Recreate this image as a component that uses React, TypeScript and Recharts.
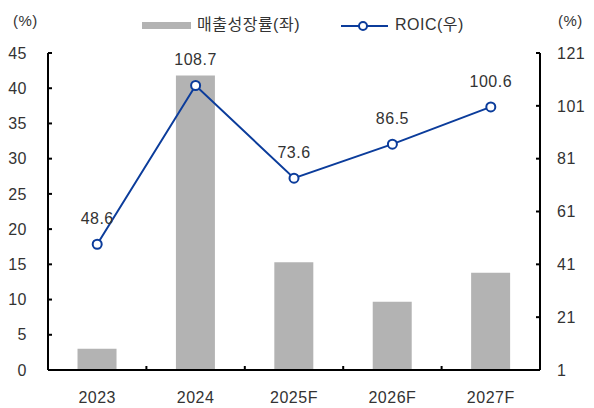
import React from 'react';
import { ComposedChart, Bar, Line, XAxis, YAxis, LabelList } from 'recharts';

const years = ['2023', '2024', '2025F', '2026F', '2027F'];
const growth = [3.0, 41.8, 15.3, 9.7, 13.8];
const roic = [48.6, 108.7, 73.6, 86.5, 100.6];
const leftTicks = [0, 5, 10, 15, 20, 25, 30, 35, 40, 45];
const rightTicks = [1, 21, 41, 61, 81, 101, 121];

const data = years.map((y, i) => ({ year: y, growth: growth[i], roic: roic[i] }));

const FONT = '"Liberation Sans", Arial, "Noto Sans CJK KR", sans-serif';
const BLUE = '#0B3C9B';
const GREY = '#B3B3B3';

const XTick = (props: any) => {
  const { x, y, payload, index } = props;
  const off = payload.offset || 0;
  return (
    <g>
      {index < years.length - 1 && (
        <line x1={x + off} x2={x + off} y1={y} y2={y - 4} stroke="#000" strokeWidth={2} />
      )}
      <text x={x} y={y + 22} dy="0.71em" textAnchor="middle" fill="#333" fontSize={16} fontFamily={FONT} letterSpacing={0.5}>
        {payload.value}
      </text>
    </g>
  );
};

export default function App() {
  const tickStyle = { fill: '#333', fontSize: 16, fontFamily: FONT, letterSpacing: 0.5 };
  return (
    <div style={{ position: 'absolute', left: 0, top: 0, width: 594, height: 408, fontFamily: FONT }}>
      <ComposedChart width={594} height={408} data={data} margin={{ top: 53, right: 0, bottom: 0, left: 0 }} barCategoryGap="30%">
        <XAxis dataKey="year" height={38} tickLine={false} tickSize={0} tickMargin={0} axisLine={{ stroke: '#000', strokeWidth: 2 }} tick={<XTick />} interval={0} />
        <YAxis yAxisId="l" orientation="left" width={48} domain={[0, 45]} ticks={leftTicks} interval={0}
          tickSize={-4} tickMargin={25} axisLine={{ stroke: '#000', strokeWidth: 2 }} tickLine={{ stroke: '#000', strokeWidth: 2 }} tick={tickStyle} />
        <YAxis yAxisId="r" orientation="right" width={54} domain={[1, 121]} ticks={rightTicks} interval={0}
          tickSize={-4} tickMargin={21} axisLine={{ stroke: '#000', strokeWidth: 2 }} tickLine={{ stroke: '#000', strokeWidth: 2 }} tick={tickStyle} />
        <Bar yAxisId="l" dataKey="growth" fill={GREY} isAnimationActive={false} />
        <Line yAxisId="r" dataKey="roic" stroke={BLUE} strokeWidth={2} isAnimationActive={false}
          dot={{ r: 4.5, fill: '#fff', stroke: BLUE, strokeWidth: 2 }}>
          <LabelList dataKey="roic" position="top" offset={20} fill="#333" fontSize={16} fontFamily={FONT} letterSpacing={0.5} />
        </Line>
      </ComposedChart>
      <div style={{ position: 'absolute', left: 13, top: 11, fontSize: 15, color: '#333', lineHeight: '20px', letterSpacing: 0.5 }}>(%)</div>
      <div style={{ position: 'absolute', left: 558, top: 11, fontSize: 15, color: '#333', lineHeight: '20px', letterSpacing: 0.5 }}>(%)</div>
      <div style={{ position: 'absolute', left: 142, top: 22, width: 49, height: 7, background: GREY }} />
      <div style={{ position: 'absolute', left: 197, top: 15, fontSize: 16, color: '#333', lineHeight: '20px', letterSpacing: 0.5, whiteSpace: 'nowrap' }}>매출성장률(좌)</div>
      <svg style={{ position: 'absolute', left: 338, top: 18 }} width={54} height={16}>
        <line x1={3} x2={50} y1={8} y2={8} stroke={BLUE} strokeWidth={2} />
        <circle cx={25} cy={8} r={4} fill="#fff" stroke={BLUE} strokeWidth={2} />
      </svg>
      <div style={{ position: 'absolute', left: 395, top: 15, fontSize: 16, color: '#333', lineHeight: '20px', letterSpacing: 0.5, whiteSpace: 'nowrap' }}>ROIC(우)</div>
    </div>
  );
}
